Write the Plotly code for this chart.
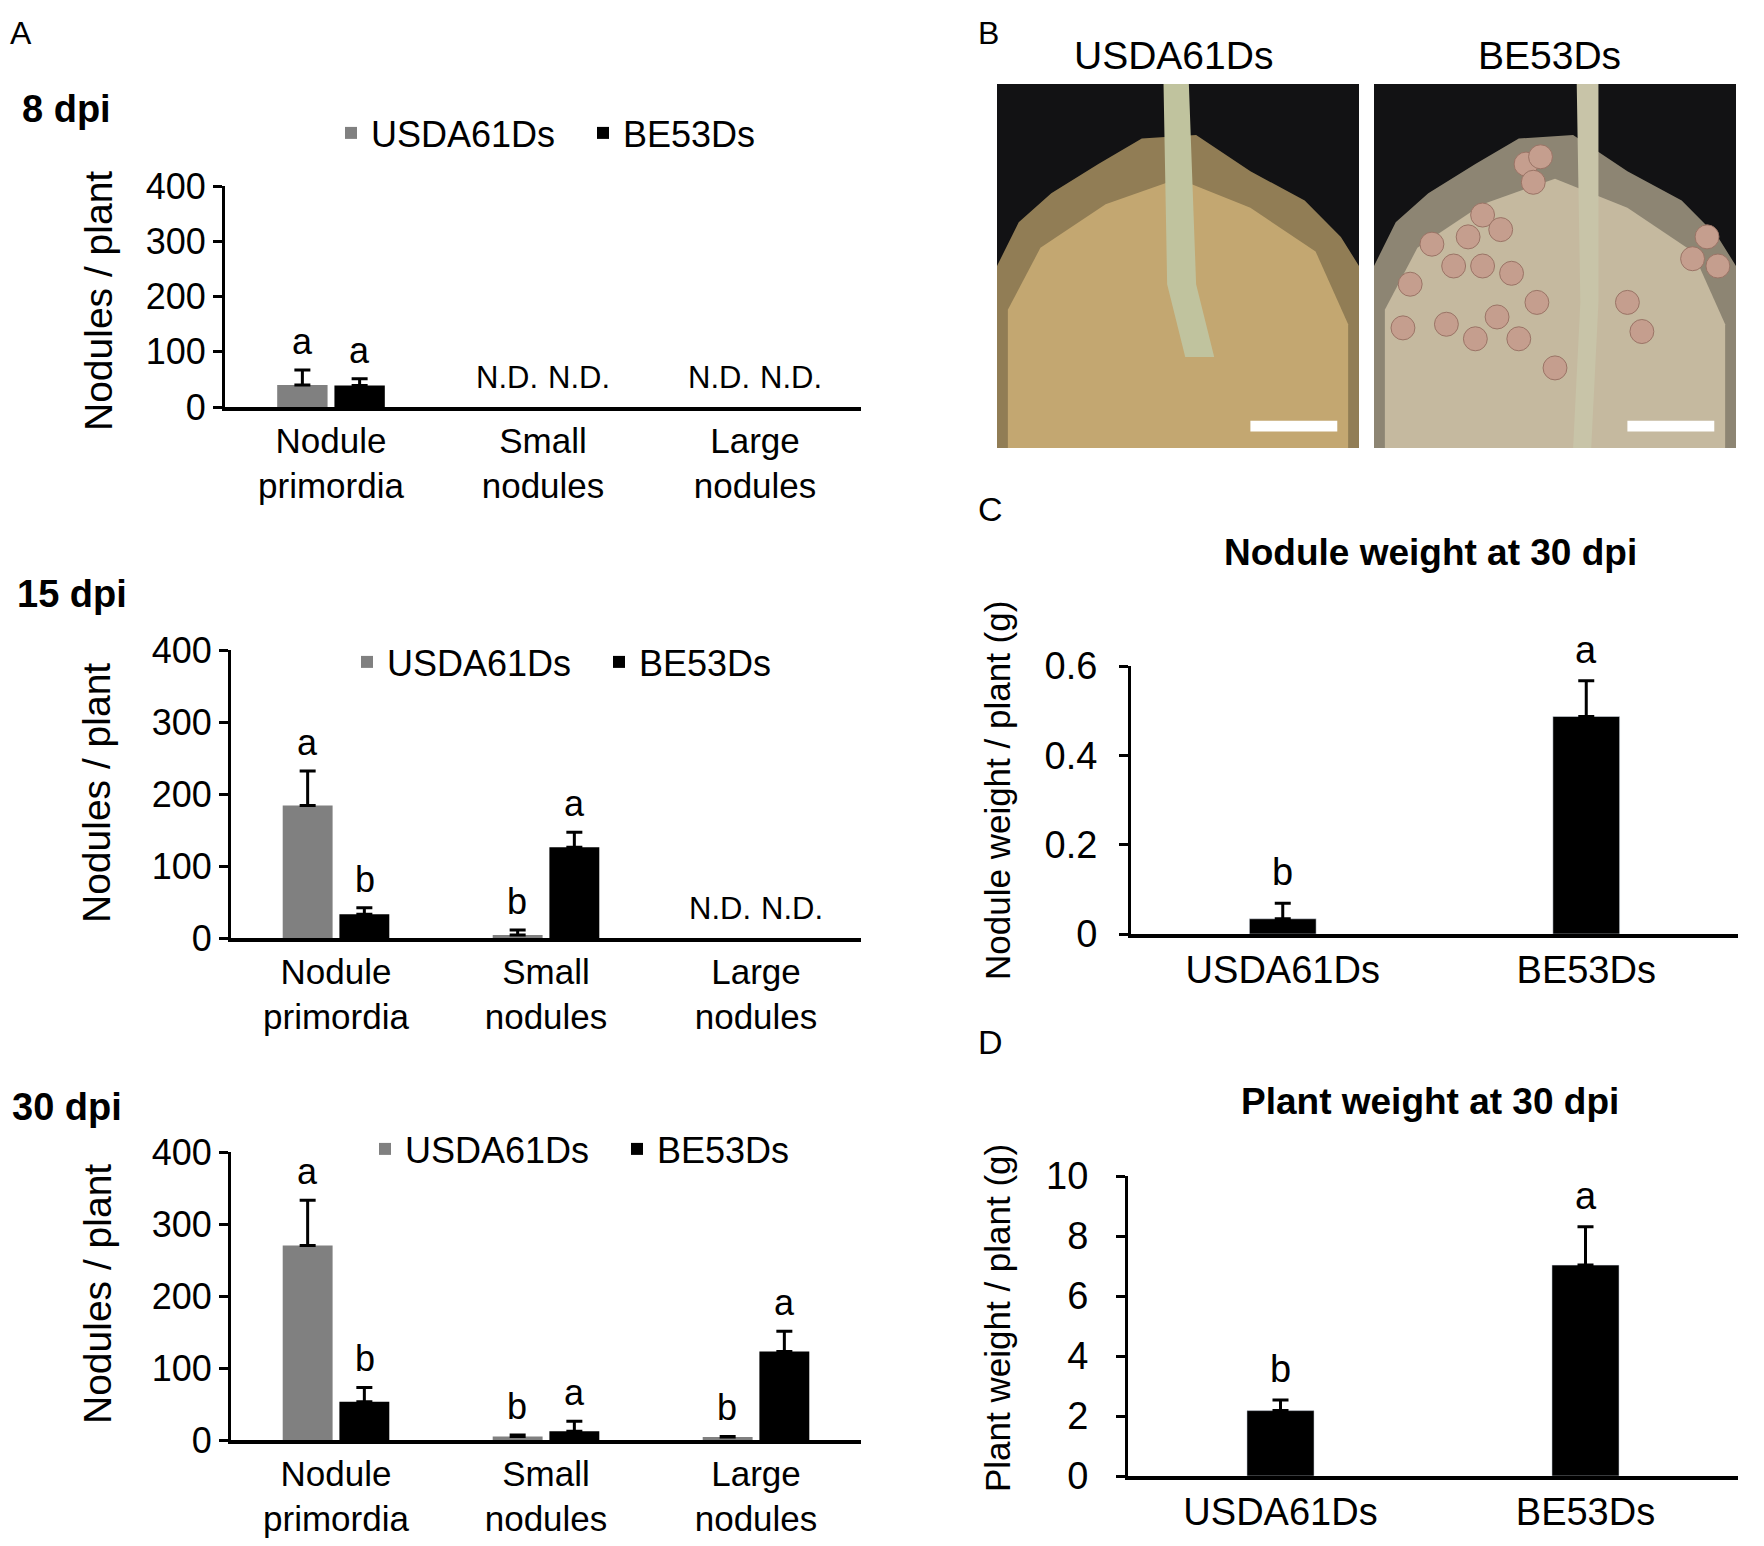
import plotly.graph_objects as go

# ---- data ----
categories = ["Nodule<br>primordia", "Small<br>nodules", "Large<br>nodules"]
strains = ["USDA61Ds", "BE53Ds"]

# 8 dpi
usda_8 = [40, None, None]
usda_8_err = [27, None, None]
be_8 = [39, None, None]
be_8_err = [12, None, None]
usda_8_letters = ["a", None, None]
be_8_letters = ["a", None, None]
nd_8 = [False, True, True]

# 15 dpi
usda_15 = [184, 4, None]
usda_15_err = [48, 7, None]
be_15 = [33, 126, None]
be_15_err = [9, 21, None]
usda_15_letters = ["a", "b", None]
be_15_letters = ["b", "a", None]
nd_15 = [False, False, True]

# 30 dpi
usda_30 = [270, 5, 4]
usda_30_err = [63, 2, 1]
be_30 = [53, 12, 123]
be_30_err = [20, 14, 28]
usda_30_letters = ["a", "b", "b"]
be_30_letters = ["b", "a", "a"]

# C / D
nodule_weight = [0.034, 0.487]
nodule_weight_err = [0.035, 0.08]
nodule_weight_letters = ["b", "a"]
plant_weight = [2.18, 7.03]
plant_weight_err = [0.35, 1.28]
plant_weight_letters = ["b", "a"]

W, H = 1764, 1546
PAGE_OFF = 8  # default body margin of the html page
FONT = "Liberation Sans, Arial, Helvetica, sans-serif"
GREY = "#808080"
BLACK = "#000000"


def fx(px):
    return (px - PAGE_OFF) / W


def fy(py):
    return 1 - (py - PAGE_OFF) / H


fig = go.Figure()
annotations = []
shapes = []


def add_panel(n, usda, usda_err, be, be_err, l_usda, l_be, nd, legend):
    xa = "x" if n == 1 else "x%d" % n
    ya = "y" if n == 1 else "y%d" % n
    for name, vals, errs, color in [(strains[0], usda, usda_err, GREY),
                                    (strains[1], be, be_err, BLACK)]:
        fig.add_trace(go.Bar(
            x=categories, y=vals, name=name, marker_color=color,
            marker_line_width=0, xaxis=xa, yaxis=ya, legend=legend,
            error_y=dict(type="data", symmetric=False, array=errs,
                         arrayminus=[0] * len(vals), color=BLACK,
                         thickness=3, width=8),
        ))
    off = 0.136
    for i in range(len(categories)):
        for sign, vals, errs, lets in [(-1, usda, usda_err, l_usda),
                                       (1, be, be_err, l_be)]:
            if lets[i] is not None:
                annotations.append(dict(
                    x=i + sign * off, y=vals[i] + errs[i], xref=xa, yref=ya,
                    text=lets[i], showarrow=False, yanchor="bottom", yshift=6,
                    font=dict(size=36, color=BLACK, family=FONT)))
        if nd is not None and nd[i]:
            for sign in (-1, 1):
                annotations.append(dict(
                    x=i + sign * 0.17, y=0, xref=xa, yref=ya, text="N.D.",
                    showarrow=False, yanchor="bottom", yshift=10,
                    font=dict(size=31, color=BLACK, family=FONT)))


add_panel(1, usda_8, usda_8_err, be_8, be_8_err, usda_8_letters, be_8_letters, nd_8, "legend")
add_panel(2, usda_15, usda_15_err, be_15, be_15_err, usda_15_letters, be_15_letters, nd_15, "legend2")
add_panel(3, usda_30, usda_30_err, be_30, be_30_err, usda_30_letters, be_30_letters, None, "legend3")

# C and D
for n, vals, errs, lets in [(4, nodule_weight, nodule_weight_err, nodule_weight_letters),
                            (5, plant_weight, plant_weight_err, plant_weight_letters)]:
    fig.add_trace(go.Bar(
        x=strains, y=vals, marker_color=BLACK, width=0.22, showlegend=False,
        xaxis="x%d" % n, yaxis="y%d" % n,
        error_y=dict(type="data", symmetric=False, array=errs,
                     arrayminus=[0, 0], color=BLACK, thickness=3, width=8),
    ))
    for i in range(2):
        annotations.append(dict(
            x=i, y=vals[i] + errs[i], xref="x%d" % n, yref="y%d" % n,
            text=lets[i], showarrow=False, yanchor="bottom", yshift=8,
            font=dict(size=38, color=BLACK, family=FONT)))

yax = dict(showline=True, linecolor=BLACK, linewidth=3, ticks="outside",
           ticklen=9, tickwidth=3, tickcolor=BLACK, showgrid=False,
           zeroline=False, automargin=False,
           tickfont=dict(size=36, color=BLACK, family=FONT))
xax = dict(showline=True, linecolor=BLACK, linewidth=3.5, ticks="",
           showgrid=False, zeroline=False, type="category", automargin=False,
           tickfont=dict(size=35, color=BLACK, family=FONT))

a_axes = [(1, 225, 861, 186, 407), (2, 231, 861, 650, 938), (3, 231, 861, 1152, 1440)]
for n, x0, x1, y0, y1 in a_axes:
    xk = "xaxis" if n == 1 else "xaxis%d" % n
    yk = "yaxis" if n == 1 else "yaxis%d" % n
    xr = "x" if n == 1 else "x%d" % n
    yr = "y" if n == 1 else "y%d" % n
    fig.layout[xk] = dict(xax, domain=[fx(x0), fx(x1)], anchor=yr, range=[-0.5, 2.5])
    fig.layout[yk] = dict(yax, domain=[fy(y1), fy(y0)], anchor=xr, range=[0, 400], dtick=100)

big = dict(size=38, color=BLACK, family=FONT)
fig.layout["xaxis4"] = dict(xax, domain=[fx(1131), fx(1738)], anchor="y4", range=[-0.5, 1.5], tickfont=big)
fig.layout["yaxis4"] = dict(yax, domain=[fy(934), fy(666)], anchor="x4", range=[0, 0.6], dtick=0.2,
                            tickfont=big, ticklabelstandoff=14)
fig.layout["xaxis5"] = dict(xax, domain=[fx(1128), fx(1738)], anchor="y5", range=[-0.5, 1.5], tickfont=big)
fig.layout["yaxis5"] = dict(yax, domain=[fy(1476), fy(1176)], anchor="x5", range=[0, 10], dtick=2,
                            tickfont=big, ticklabelstandoff=20)


def text(x, y, s, size=36, bold=False, xanchor="left", angle=0):
    annotations.append(dict(
        x=fx(x), y=fy(y), xref="paper", yref="paper", showarrow=False,
        text="<b>%s</b>" % s if bold else s, xanchor=xanchor, yanchor="middle",
        textangle=angle, font=dict(size=size, color=BLACK, family=FONT)))


# panel letters and headings
text(8, 33, "A", 32)
text(976, 33, "B", 32)
text(976, 509, "C", 34)
text(976, 1042, "D", 34)
text(20, 109, "8 dpi", 38, True)
text(15, 594, "15 dpi", 38, True)
text(10, 1107, "30 dpi", 38, True)
text(1430, 552, "Nodule weight at 30 dpi", 37, True, "center")
text(1430, 1101, "Plant weight at 30 dpi", 37, True, "center")

# axis titles
text(99, 301, "Nodules / plant", 39, False, "center", -90)
text(96, 793, "Nodules / plant", 39, False, "center", -90)
text(97, 1294, "Nodules / plant", 39, False, "center", -90)
text(997, 791, "Nodule weight / plant (g)", 35, False, "center", -90)
text(997, 1318, "Plant weight / plant (g)", 35, False, "center", -90)

# panel B: photo placeholders drawn with shapes
photos = [(997, 1359), (1374, 1736)]
py0, py1 = 84, 448
text(1173, 56, strains[0], 39, False, "center")
text(1549, 56, strains[1], 39, False, "center")


def to_paper(px0, px1, u, v):
    return fx(px0 + u * (px1 - px0)), fy(py0 + v * (py1 - py0))


def poly(px0, px1, pts, color, opacity=1.0):
    path = ""
    for k, (u, v) in enumerate(pts):
        X, Y = to_paper(px0, px1, u, v)
        path += ("M" if k == 0 else "L") + "%.5f,%.5f" % (X, Y)
    shapes.append(dict(type="path", xref="paper", yref="paper", path=path + "Z",
                       fillcolor=color, line_width=0, opacity=opacity, layer="above"))


def rect(px0, px1, u0, v0, u1, v1, color):
    X0, Y0 = to_paper(px0, px1, u0, v0)
    X1, Y1 = to_paper(px0, px1, u1, v1)
    shapes.append(dict(type="rect", xref="paper", yref="paper", x0=X0, y0=Y1,
                       x1=X1, y1=Y0, fillcolor=color, line_width=0, layer="above"))


def circle(px0, px1, u, v, r, color):
    X0, Y0 = to_paper(px0, px1, u - r, v - r)
    X1, Y1 = to_paper(px0, px1, u + r, v + r)
    shapes.append(dict(type="circle", xref="paper", yref="paper", x0=X0, y0=Y1,
                       x1=X1, y1=Y0, fillcolor=color, line=dict(color="#9a7466", width=1),
                       layer="above"))


root_outline = [(0, 1), (0, 0.5), (0.06, 0.38), (0.15, 0.3), (0.28, 0.22), (0.4, 0.15),
                (0.55, 0.14), (0.7, 0.24), (0.85, 0.32), (0.95, 0.42), (1, 0.5), (1, 1)]
inner_outline = [(0.03, 1), (0.03, 0.62), (0.12, 0.45), (0.3, 0.33), (0.5, 0.26),
                 (0.7, 0.34), (0.88, 0.46), (0.97, 0.66), (0.97, 1)]

# left photo
p0, p1 = photos[0]
rect(p0, p1, 0, 0, 1, 1, "#121214")
poly(p0, p1, root_outline, "#a89060", 0.85)
poly(p0, p1, inner_outline, "#c9ac74", 0.9)
poly(p0, p1, [(0.46, 0), (0.53, 0), (0.55, 0.55), (0.6, 0.75), (0.52, 0.75), (0.47, 0.55)], "#c0c39e")
rect(p0, p1, 0.70, 0.925, 0.94, 0.955, "#ffffff")

# right photo
p0, p1 = photos[1]
rect(p0, p1, 0, 0, 1, 1, "#121214")
poly(p0, p1, root_outline, "#a39a84", 0.85)
poly(p0, p1, inner_outline, "#cbbfa4", 0.9)
poly(p0, p1, [(0.56, 0), (0.62, 0), (0.62, 0.6), (0.6, 1), (0.55, 1), (0.57, 0.6)], "#c8c4a8")
for u, v in [(0.42, 0.22), (0.46, 0.2), (0.44, 0.27), (0.3, 0.36), (0.26, 0.42), (0.35, 0.4),
             (0.22, 0.5), (0.3, 0.5), (0.38, 0.52), (0.16, 0.44), (0.1, 0.55), (0.34, 0.64),
             (0.4, 0.7), (0.28, 0.7), (0.45, 0.6), (0.2, 0.66), (0.08, 0.67), (0.7, 0.6),
             (0.74, 0.68), (0.92, 0.42), (0.95, 0.5), (0.88, 0.48), (0.5, 0.78)]:
    circle(p0, p1, u, v, 0.033, "#c59e8e")
rect(p0, p1, 0.70, 0.925, 0.94, 0.955, "#ffffff")

legend_style = dict(orientation="h", xanchor="left", yanchor="middle", bgcolor="rgba(0,0,0,0)",
                    font=dict(size=36, color=BLACK, family=FONT), itemwidth=30,
                    entrywidth=207, entrywidthmode="pixels", traceorder="normal")

fig.update_layout(
    width=W, height=H, margin=dict(l=0, r=0, t=0, b=0, autoexpand=False),
    paper_bgcolor="white", plot_bgcolor="white",
    barmode="group", bargap=0.46, bargroupgap=0.12,
    font=dict(family=FONT, color=BLACK),
    annotations=annotations, shapes=shapes,
    legend=dict(legend_style, x=fx(331), y=fy(133)),
    legend2=dict(legend_style, x=fx(347), y=fy(662)),
    legend3=dict(legend_style, x=fx(365), y=fy(1149)),
)

fig.write_html("out.html")
